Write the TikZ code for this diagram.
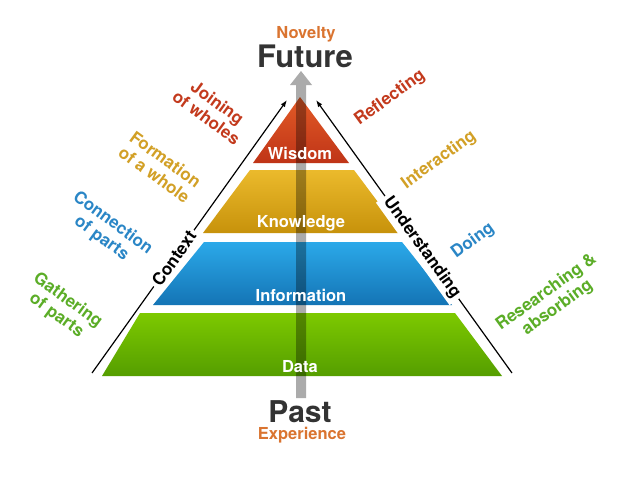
\documentclass[tikz,border=0pt]{standalone}
\usepackage{fontspec}
\setmainfont{TeX Gyre Heros}
\usepackage{tikz}
\usetikzlibrary{arrows.meta}
\definecolor{wisdomtop}{HTML}{E35B27}
\definecolor{wisdombot}{HTML}{BF3417}
\definecolor{knowtop}{HTML}{EBBA2C}
\definecolor{knowbot}{HTML}{C7920B}
\definecolor{infotop}{HTML}{2BA9E9}
\definecolor{infobot}{HTML}{1474B5}
\definecolor{datatop}{HTML}{7DC900}
\definecolor{databot}{HTML}{559E00}
\definecolor{redtext}{HTML}{C33A1D}
\definecolor{goldtext}{HTML}{D2A026}
\definecolor{bluetext}{HTML}{2A86C6}
\definecolor{greentext}{HTML}{5BAD27}
\definecolor{orangetext}{HTML}{DA7430}
\definecolor{darktext}{HTML}{333333}
\newcommand{\pyrshape}[3] {\shade [top color=#1, bottom color=#2] #3 -- cycle;}
\newcommand{\pyrlabel}[3] {\node at (#1) (#2) [anchor=base, text=white, font=\fontsize{16.5}{18}\selectfont\bfseries] {#3};}
\newcommand{\sidelabel}[5] {\node at (#1) (#2) [rotate=#3, text=#4, align=center, font=\fontsize{17}{19}\selectfont\bfseries] {#5};}
\newcommand{\axisline}[5] {\draw [line width=1.2pt, -{Latex[length=7pt,width=5pt]}] (#1) -- (#2) node [pos=#3, sloped, fill=white, inner sep=3pt, font=\fontsize{17}{19}\selectfont\bfseries] (#4) {#5};}

\begin{document}
\begin{tikzpicture}[x=1pt, y=-1pt]
\fill [white] (0,0) rectangle (640,480);
\useasboundingbox (0,0) rectangle (640,480);

% layers
\pyrshape {wisdomtop} {wisdombot} {(300,97) -- (349,163) -- (253,163)};
\pyrshape {knowtop} {knowbot} {(250,170) -- (354,170) -- (401,233) -- (203,233)};
\pyrshape {infotop} {infobot} {(204,242) -- (402,242) -- (452,305) -- (153,305)};
\pyrshape {datatop} {databot} {(140,313) -- (455,313) -- (502,376) -- (102,376)};

% time arrow
\fill [black, fill opacity=0.33] (296,398) -- (296,85) -- (290,85) -- (301,71) -- (312,85) -- (306,85) -- (306,398) -- cycle;

\pyrlabel {300,159} {wisdom} {Wisdom};
\pyrlabel {301,227} {knowledge} {Knowledge};
\pyrlabel {301,301} {information} {Information};
\pyrlabel {300,372} {data} {Data};

\node at (306,38) (novelty) [anchor=base, text=orangetext, font=\fontsize{16.5}{18}\selectfont\bfseries] {Novelty};
\node at (305,67) (future) [anchor=base, text=darktext, font=\fontsize{31}{31}\selectfont\bfseries] {Future};
\node at (300,422) (past) [anchor=base, text=darktext, font=\fontsize{30}{30}\selectfont\bfseries] {Past};
\node at (302,439) (experience) [anchor=base, text=orangetext, font=\fontsize{16.5}{18}\selectfont\bfseries] {Experience};

% side axes
\coordinate (ctxbot) at (92,373);
\coordinate (ctxtop) at (287,100);
\coordinate (undbot) at (512,373);
\coordinate (undtop) at (316,100);
\axisline {ctxbot} {ctxtop} {0.42} {context} {Context};
\axisline {undbot} {undtop} {0.46} {understanding} {Understanding};

\sidelabel {212,110} {joining} {-36} {redtext} {Joining\\of wholes};
\sidelabel {160,167} {formation} {-36} {goldtext} {Formation\\of a whole};
\sidelabel {107,231} {connection} {-36} {bluetext} {Connection\\of parts};
\sidelabel {62,308} {gathering} {-36} {greentext} {Gathering\\of parts};
\sidelabel {390,98} {reflecting} {36} {redtext} {Reflecting};
\sidelabel {439,160} {interacting} {36} {goldtext} {Interacting};
\sidelabel {473,241} {doing} {36} {bluetext} {Doing};
\sidelabel {552,300} {researching} {36} {greentext} {Researching \&\\absorbing};
\end{tikzpicture}
\end{document}
